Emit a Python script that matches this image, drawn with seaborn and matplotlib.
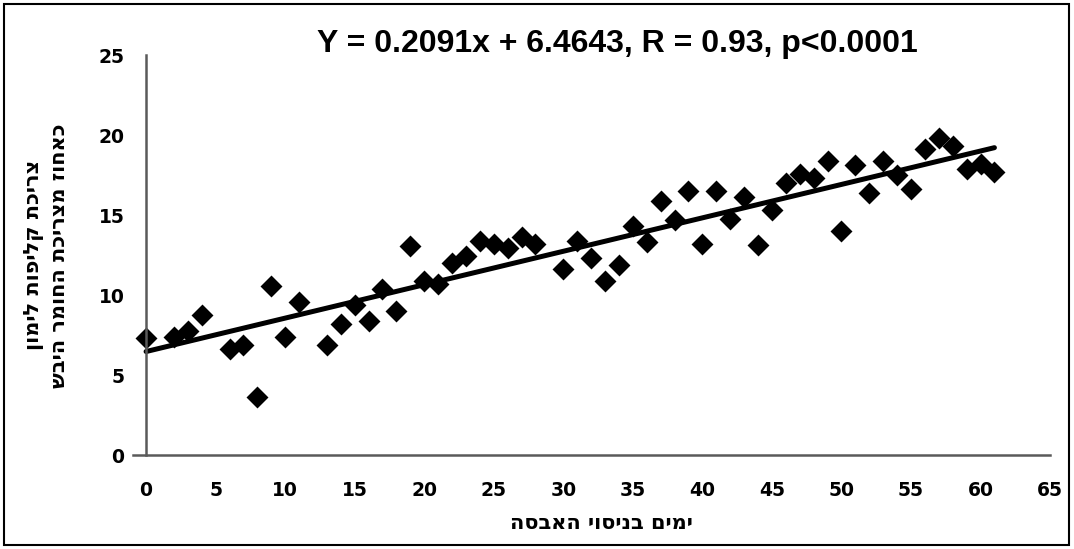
import numpy as np
import pandas as pd
import matplotlib
matplotlib.use("Agg")
import matplotlib.pyplot as plt
import seaborn as sns

# --- data ---
days = [0, 2, 3, 4, 6, 7, 8, 9, 10, 11, 13, 14, 15, 16, 17, 18, 19, 20, 21, 22,
        23, 24, 25, 26, 27, 28, 30, 31, 32, 33, 34, 35, 36, 37, 38, 39, 40, 41,
        42, 43, 44, 45, 46, 47, 48, 49, 50, 51, 52, 53, 54, 55, 56, 57, 58, 59,
        60, 61]
peel_pct = [7.3, 7.35, 7.75, 8.75, 6.65, 6.9, 3.65, 10.55, 7.35, 9.55, 6.9, 8.2,
            9.35, 8.35, 10.35, 9.0, 13.05, 10.85, 10.7, 12.0, 12.45, 13.35, 13.2,
            12.95, 13.65, 13.2, 11.6, 13.35, 12.3, 10.85, 11.9, 14.3, 13.3, 15.85,
            14.7, 16.5, 13.2, 16.5, 14.75, 16.15, 13.1, 15.3, 17.0, 17.55, 17.3,
            18.35, 14.0, 18.1, 16.4, 18.4, 17.5, 16.65, 19.1, 19.8, 19.3, 17.9,
            18.2, 17.7]
x_ticks = list(range(0, 70, 5))
y_ticks = list(range(0, 30, 5))

title_txt = "Y = 0.2091x + 6.4643, R = 0.93, p<0.0001"
x_label = "ימים בניסוי האבסה"
y_label_1 = "צריכת קליפות לימון"
y_label_2 = "כאחוז מצריכת החומר היבש"


def rtl(s):
    # matplotlib has no bidi support, so flip hebrew strings by hand
    return s[::-1]


df = pd.DataFrame({"day": days, "pct": peel_pct})

sns.set_style("white")
plt.rcParams["font.family"] = ["DejaVu Sans"]
plt.rcParams["text.color"] = "black"

fig = plt.figure(figsize=(10.74, 5.49), dpi=100)
ax = fig.add_axes([0.1237, 0.1712, 0.854, 0.7286])

sns.regplot(data=df, x="day", y="pct", ax=ax, ci=None, truncate=True,
            marker="D",
            scatter_kws=dict(s=125, color="black", linewidths=0, alpha=1),
            line_kws=dict(color="black", lw=3.6, solid_capstyle="round"))

ax.set_xlim(-0.95, 65)
ax.set_ylim(0, 25)
ax.spines["left"].set_position(("data", 0))
for side in ["top", "right"]:
    ax.spines[side].set_visible(False)
for side in ["left", "bottom"]:
    ax.spines[side].set_color("#5a5a5a")
    ax.spines[side].set_linewidth(1.8)

ax.set_xticks(x_ticks)
ax.set_yticks(y_ticks)
ax.tick_params(axis="both", direction="out", length=9.5, width=1.8,
               color="#5a5a5a", labelcolor="black", labelsize=13.5)
ax.tick_params(axis="x", pad=9)
ax.tick_params(axis="y", pad=6)
for lab in ax.get_xticklabels() + ax.get_yticklabels():
    lab.set_fontweight("bold")
    lab.set_family("DejaVu Sans")

ax.set_xlabel("")
ax.set_ylabel("")
fig.text(0.56, 0.047, rtl(x_label), ha="center", va="center",
         fontsize=15, fontweight="bold")
fig.text(0.0315, 0.535, rtl(y_label_1), ha="center", va="center",
         rotation=90, fontsize=15, fontweight="bold")
fig.text(0.055, 0.535, rtl(y_label_2), ha="center", va="center",
         rotation=90, fontsize=15, fontweight="bold")

fig.text(0.5745, 0.919, title_txt, ha="center", va="center",
         fontsize=23, fontweight="bold", family="Liberation Sans")

fig.patches.append(plt.Rectangle((0.0037, 0.007), 0.9916, 0.9856,
                                 transform=fig.transFigure, fill=False,
                                 ec="black", lw=1.5))

fig.savefig("out.png", dpi=100)
